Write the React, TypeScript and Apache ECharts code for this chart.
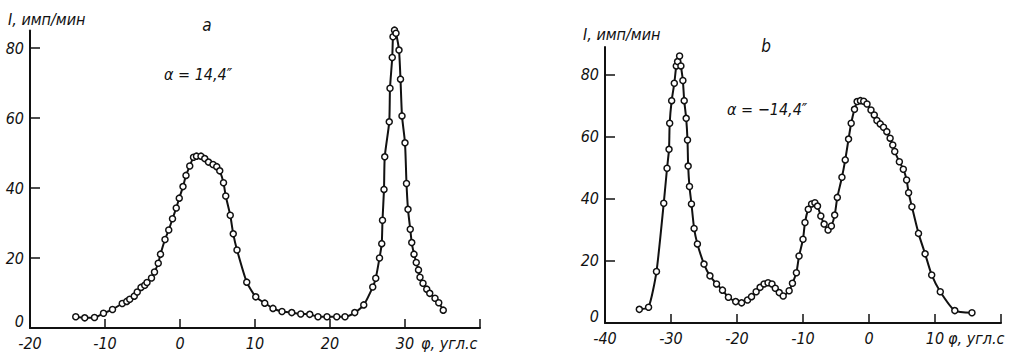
import React, { useEffect, useRef } from "react";
import * as echarts from "echarts";

// Panel a: α = 14,4″
const phiA = [
  -13.9, -12.7, -11.4, -10.2, -9.0, -7.7, -7.1, -6.7, -6.1, -5.7, -5.2, -4.7, -4.4, -3.8, -3.4, -2.9,
  -2.6, -2.0, -1.5, -1.0, -0.5, -0.1, 0.4, 0.8, 1.3, 1.8, 2.2, 2.8, 3.3, 3.8, 4.4, 4.9, 5.3, 5.8, 6.1,
  6.7, 7.1, 7.6, 8.9, 10.1, 11.3, 12.4, 13.6, 14.9, 16.1, 17.3, 18.4, 19.6, 20.9, 22.0, 23.3, 24.5,
  25.7, 26.1, 26.6, 26.9, 27.0, 27.2, 27.3, 27.9, 28.0, 28.3, 28.4, 28.6, 28.8, 29.2, 29.4, 29.6,
  30.0, 30.2, 30.4, 30.7, 30.9, 31.2, 31.5, 31.8, 32.0, 32.4, 32.9, 33.3, 34.0, 34.5, 35.1,
];
const intensityA = [
  3.2, 2.9, 3.0, 4.2, 5.3, 7.0, 7.6, 8.2, 9.1, 10.3, 11.6, 12.2, 13.0, 14.3, 16.0, 18.5,
  21.1, 25.3, 28.0, 31.2, 34.3, 37.1, 40.4, 43.6, 46.3, 48.8, 49.1, 49.1, 48.4, 47.4, 46.7, 46.1, 44.9, 41.5, 37.7,
  32.2, 26.9, 22.3, 13.1, 8.9, 7.1, 5.6, 4.7, 4.4, 4.0, 3.9, 3.2, 3.2, 3.2, 3.2, 4.4, 6.6,
  11.7, 14.2, 20.0, 24.1, 30.8, 39.6, 48.9, 58.9, 68.5, 77.3, 83.2, 85.1, 84.2, 79.4, 71.1, 60.6,
  52.9, 41.3, 33.9, 28.2, 24.4, 21.1, 18.7, 16.6, 14.5, 12.8, 11.1, 9.9, 8.5, 7.2, 5.1,
];

// Panel b: α = −14,4″
const phiB = [
  -34.8, -33.4, -32.2, -31.1, -30.6, -30.3, -30.2, -29.9, -29.5, -29.2, -29.0, -28.7, -28.5, -28.2,
  -28.0, -27.7, -27.5, -27.4, -27.2, -26.9, -26.5, -26.0, -25.0, -24.1, -23.1, -22.2, -21.3, -20.2,
  -19.3, -18.4, -17.8, -17.1, -16.5, -15.9, -15.3, -14.7, -14.2, -13.6, -13.0, -12.1, -11.6, -11.0,
  -10.6, -10.0, -9.7, -9.2, -8.7, -8.2, -7.8, -7.3, -6.8, -6.2, -5.7, -5.2, -4.8, -4.1, -3.6, -3.1,
  -2.7, -2.2, -1.8, -1.3, -0.8, -0.3, 0.3, 0.8, 1.2, 1.7, 2.2, 2.7, 3.2, 3.6, 3.9, 4.6, 5.2, 5.7,
  6.0, 6.5, 7.5, 8.5, 9.5, 10.8, 13.0, 15.6,
];
const intensityB = [
  4.4, 5.1, 16.6, 38.6, 49.9, 56.0, 64.4, 71.7, 77.3, 82.9, 84.3, 86.1, 82.9, 78.2,
  71.7, 66.0, 59.0, 50.6, 44.0, 38.4, 30.5, 25.5, 19.0, 15.2, 12.6, 10.6, 8.3, 6.9,
  6.5, 7.4, 8.5, 10.1, 11.5, 12.6, 13.0, 12.6, 11.2, 9.8, 8.7, 10.4, 12.8, 16.2,
  21.6, 27.0, 32.4, 36.7, 38.4, 38.8, 37.7, 34.5, 31.9, 30.0, 31.3, 34.8, 40.5, 47.0, 52.6, 59.3,
  64.4, 68.9, 71.4, 71.7, 71.5, 70.6, 68.7, 67.1, 65.3, 64.2, 63.1, 61.7, 59.6, 57.4, 55.3, 52.0, 49.6, 46.1,
  42.0, 37.5, 28.9, 22.3, 15.5, 10.1, 4.0, 3.3,
];

const yTicks = [0, 20, 40, 60, 80];
const yTitle = "I, имп/мин";
const xTitle = "φ, угл.с";
const panelLabels = ["a", "b"];
const alphaLabels = ["α = 14,4″", "α = −14,4″"];

const FONT = "'Liberation Sans Narrow', 'DejaVu Sans Condensed', 'Liberation Sans', sans-serif";
const INK = "#111";

const textStyle = {
  fontFamily: FONT,
  fontStyle: "italic" as const,
  fontSize: 16,
  color: INK,
};

function makeXAxis(gridIndex: number, min: number, max: number) {
  return {
    type: "value",
    gridIndex,
    min,
    max,
    interval: 10,
    axisLine: { show: true, onZero: false, lineStyle: { color: INK, width: 2 } },
    axisTick: { show: true, inside: true, length: 9, lineStyle: { color: INK, width: 1.5 } },
    axisLabel: {
      ...textStyle,
      margin: 7,
      formatter: (v: number) => (v === max ? "" : String(v)),
    },
    splitLine: { show: false },
  };
}

function makeYAxis(gridIndex: number, max: number) {
  return {
    type: "value",
    gridIndex,
    min: 0,
    max,
    axisLine: { show: true, onZero: false, lineStyle: { color: INK, width: 2 } },
    axisTick: {
      show: true,
      inside: true,
      length: 10,
      customValues: yTicks.slice(1),
      lineStyle: { color: INK, width: 1.5 },
    },
    axisLabel: {
      ...textStyle,
      margin: 6,
      customValues: yTicks,
      formatter: (v: number) => (v === 0 ? "{z|0}" : String(v)),
      rich: {
        z: { ...textStyle, padding: [0, 0, 14, 0] },
      },
    },
    splitLine: { show: false },
  };
}

function makeSeries(idx: number, xs: number[], ys: number[]) {
  return {
    type: "line",
    xAxisIndex: idx,
    yAxisIndex: idx,
    data: xs.map((x, i) => [x, ys[i]]),
    smooth: 0.2,
    clip: false,
    symbol: "circle",
    symbolSize: 6,
    itemStyle: { color: "#fff", borderColor: INK, borderWidth: 1.5 },
    lineStyle: { color: INK, width: 2 },
    z: 3,
  };
}

function txt(x: number, y: number, text: string, size = 16, align = "left") {
  return {
    type: "text",
    x,
    y,
    style: {
      text,
      fontFamily: FONT,
      fontStyle: "italic",
      fontSize: size,
      fill: INK,
      align,
      verticalAlign: "middle",
    },
  };
}

export default function App() {
  const ref = useRef<HTMLDivElement>(null);

  useEffect(() => {
    if (!ref.current) return;
    const chart = echarts.init(ref.current, undefined, { renderer: "svg" });
    chart.setOption({
      animation: false,
      backgroundColor: "#fff",
      grid: [
        { left: 30, top: 30.5, width: 450, height: 297.5, containLabel: false },
        { left: 605, top: 47, width: 396, height: 276, containLabel: false },
      ],
      xAxis: [makeXAxis(0, -20, 40), makeXAxis(1, -40, 20)],
      yAxis: [makeYAxis(0, 85), makeYAxis(1, 89)],
      series: [makeSeries(0, phiA, intensityA), makeSeries(1, phiB, intensityB)],
      graphic: [
        txt(8, 19, yTitle, 16),
        txt(207, 25, panelLabels[0], 17, "center"),
        txt(164, 74, alphaLabels[0], 16),
        txt(421, 343, xTitle, 16),
        txt(583, 34, yTitle, 16),
        txt(766, 46, panelLabels[1], 17, "center"),
        txt(727, 109, alphaLabels[1], 16),
        txt(948, 338, xTitle, 16),
      ],
    });
    return () => chart.dispose();
  }, []);

  return (
    <div
      ref={ref}
      style={{ position: "absolute", left: 0, top: 0, width: 1017, height: 354, background: "#fff" }}
    />
  );
}
